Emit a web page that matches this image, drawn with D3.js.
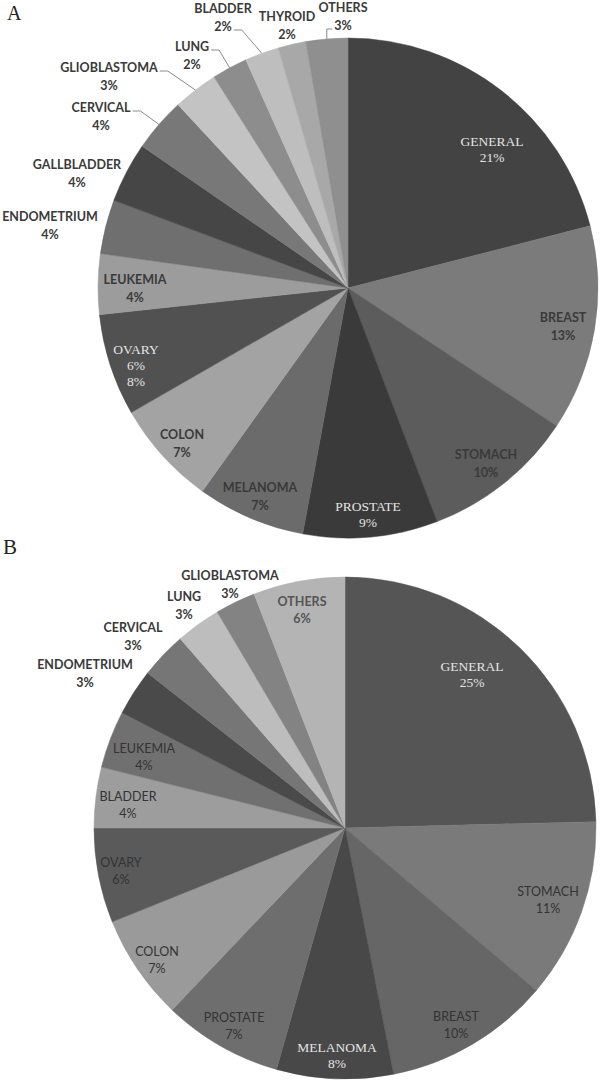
<!DOCTYPE html>
<html>
<head>
<meta charset="utf-8">
<script src="https://cdn.jsdelivr.net/npm/d3@7"></script>
<style>
  html, body { margin: 0; padding: 0; background: #ffffff; }
  svg { display: block; }
</style>
</head>
<body>
<svg id="chart" width="600" height="1082"></svg>
<script>
// ---------- DATA: panel A ----------
const categoriesA = ["GENERAL","BREAST","STOMACH","PROSTATE","MELANOMA","COLON","OVARY","LEUKEMIA",
  "ENDOMETRIUM","GALLBLADDER","CERVICAL","GLIOBLASTOMA","LUNG","BLADDER","THYROID","OTHERS"];
const valuesA = [21, 13.3, 9.9, 8.7, 7, 6.8, 6.6, 3.9, 3.5, 3.9, 3.5, 2.9, 2.3, 2.2, 1.8, 2.7];
const pctLabelsA = ["21%","13%","10%","9%","7%","7%","6% 8%","4%","4%","4%","4%","3%","2%","2%","2%","3%"];

// ---------- DATA: panel B ----------
const categoriesB = ["GENERAL","STOMACH","BREAST","MELANOMA","PROSTATE","COLON","OVARY","BLADDER",
  "LEUKEMIA","ENDOMETRIUM","CERVICAL","LUNG","GLIOBLASTOMA","OTHERS"];
const valuesB = [24.6, 11.6, 10.7, 7.5, 7.7, 6.8, 6.1, 3.9, 3.7, 3.0, 3.0, 2.9, 2.6, 5.9];
const pctLabelsB = ["25%","11%","10%","8%","7%","7%","6%","4%","4%","3%","3%","3%","3%","6%"];

// ---------- STYLES ----------
const colorsA = ["#434343","#7b7b7b","#5c5c5c","#3a3a3a","#6b6b6b","#a3a3a3","#515151","#9c9c9c",
  "#6f6f6f","#464646","#787878","#c3c3c3","#8d8d8d","#bebebe","#a8a8a8","#8f8f8f"];
const colorsB = ["#555555","#7a7a7a","#666666","#484848","#6e6e6e","#9a9a9a","#5a5a5a","#9d9d9d",
  "#707070","#4a4a4a","#767676","#bdbdbd","#838383","#b4b4b4"];

// label layout: offset of first line centre from pie centre, style, leader line index (-1 none)
const layoutA = [
  {dx:144, dy:-147, s:"serif"}, {dx:215, dy:30, s:"bold"}, {dx:138, dy:167, s:"bold"},
  {dx:20, dy:218, s:"serif"}, {dx:-88, dy:200, s:"bold"}, {dx:-166, dy:147, s:"bold"},
  {dx:-212, dy:61, s:"serif"}, {dx:-213, dy:-8, s:"bold"}, {dx:-298, dy:-71, s:"bold"},
  {dx:-271, dy:-123, s:"bold"}, {dx:-247, dy:-180, s:"bold", lead:0},
  {dx:-239, dy:-220, s:"bold", lead:0}, {dx:-156, dy:-241, s:"bold", lead:0},
  {dx:-125, dy:-279, s:"bold", lead:1}, {dx:-61, dy:-271, s:"bold"},
  {dx:-5, dy:-280, s:"bold", lead:1}
];
const layoutB = [
  {dx:127, dy:-162, s:"serif"}, {dx:203, dy:64, s:"reg"}, {dx:111, dy:189, s:"reg"},
  {dx:-8, dy:219, s:"serif"}, {dx:-111, dy:190, s:"reg"}, {dx:-188, dy:124, s:"reg"},
  {dx:-224, dy:35, s:"reg"}, {dx:-217, dy:-31, s:"reg"}, {dx:-201, dy:-79, s:"reg"},
  {dx:-260, dy:-163, s:"bold"}, {dx:-212, dy:-200, s:"bold"}, {dx:-161, dy:-231, s:"bold"},
  {dx:-115, dy:-252, s:"bold"}, {dx:-43, dy:-226, s:"gray"}
];

const textStyles = {
  serif: {family:"'Liberation Serif','DejaVu Serif',serif", size:13.5, weight:"normal", fill:"#e4e4e4", lh:16},
  bold:  {family:"Lato,'Open Sans',sans-serif", size:12.5, weight:"bold", fill:"#3a3a3a", lh:18},
  reg:   {family:"Lato,'Open Sans',sans-serif", size:12.5, weight:"normal", fill:"#333333", lh:17},
  gray:  {family:"Lato,'Open Sans',sans-serif", size:12.5, weight:"bold", fill:"#555555", lh:17}
};

const svg = d3.select("#chart");

function drawPie(cx, cy, r, cats, vals, pcts, colors, layout) {
  const g = svg.append("g").attr("transform", `translate(${cx},${cy})`);
  const pie = d3.pie().sort(null).value(d => d.v);
  const data = cats.map((c, i) => ({c, v: vals[i], p: pcts[i], col: colors[i], lay: layout[i]}));
  const arcs = pie(data);
  const arc = d3.arc().innerRadius(0).outerRadius(r);

  g.selectAll("path.slice").data(arcs).enter().append("path")
    .attr("class", "slice")
    .attr("d", arc)
    .attr("fill", d => d.data.col)
    .attr("stroke", d => d.data.col)
    .attr("stroke-width", 0.5);

  const lg = g.append("g");
  arcs.forEach(a => {
    const L = a.data.lay;
    const st = textStyles[L.s];
    const lines = [a.data.c].concat(a.data.p.split(" "));
    const t = lg.append("text")
      .attr("font-family", st.family)
      .attr("font-size", st.size)
      .attr("font-weight", st.weight)
      .attr("fill", st.fill)
      .attr("text-anchor", "middle");
    const tspans = lines.map((ln, k) =>
      t.append("tspan").attr("x", L.dx).attr("y", L.dy + k * st.lh).attr("dy", "0.35em").text(ln));
    if (L.lead !== undefined) {
      const mid = (a.startAngle + a.endAngle) / 2;
      const ex = r * Math.sin(mid), ey = -r * Math.cos(mid);
      const w = tspans[L.lead].node().getComputedTextLength();
      const ly = L.dy + L.lead * st.lh + 3;
      let sx, hx;
      if (ex > L.dx) { sx = L.dx + w / 2 + 2; hx = sx + 8; }
      else { sx = L.dx - w / 2 - 2; hx = ex; }
      lg.insert("path", "text")
        .attr("d", `M${sx},${ly}L${hx},${ly}L${ex},${ey}`)
        .attr("fill", "none")
        .attr("stroke", "#8a8a8a")
        .attr("stroke-width", 1);
    }
  });
}

drawPie(348, 288, 250, categoriesA, valuesA, pctLabelsA, colorsA, layoutA);
drawPie(345, 828, 251, categoriesB, valuesB, pctLabelsB, colorsB, layoutB);

svg.append("text").attr("x", 7).attr("y", 20)
  .attr("font-family", "'Liberation Serif',serif").attr("font-size", 20).attr("fill", "#222").text("A");
svg.append("text").attr("x", 3).attr("y", 554)
  .attr("font-family", "'Liberation Serif',serif").attr("font-size", 21).attr("fill", "#222").text("B");
</script>
</body>
</html>
